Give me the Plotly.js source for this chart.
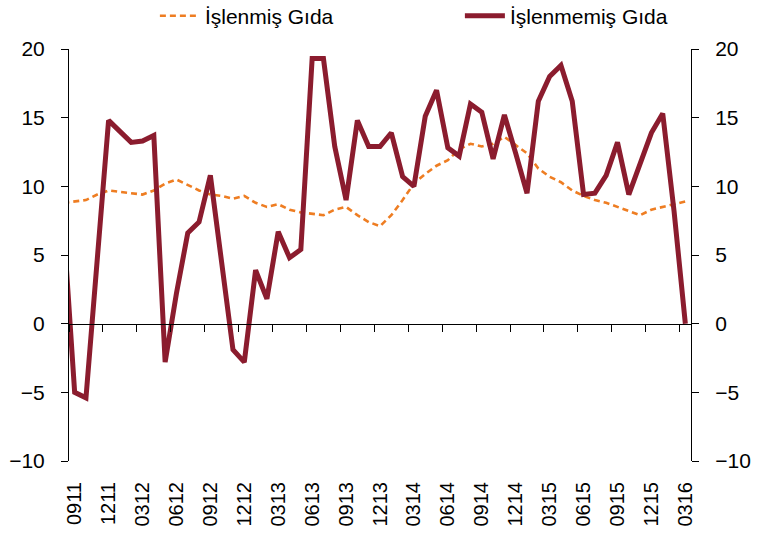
<!DOCTYPE html>
<html>
<head>
<meta charset="utf-8">
<script src="https://cdn.plot.ly/plotly-3.0.1.min.js"></script>
<style>html,body{margin:0;padding:0;background:#fff;}#chart{width:763px;height:535px;}</style>
</head>
<body>
<div id="chart"></div>
<script>
// Months (MMYY); first entry lies just before the visible range (clipped at the left axis)
var months = ['0811','0911','1011','1111','1211','0112','0212','0312','0412','0512','0612','0712','0812',
  '0912','1012','1112','1212','0113','0213','0313','0413','0513','0613','0713','0813',
  '0913','1013','1113','1213','0114','0214','0314','0414','0514','0614','0714','0814',
  '0914','1014','1114','1214','0115','0215','0315','0415','0515','0615','0715','0815',
  '0915','1015','1115','1215','0116','0216','0316'];

var islenmis = [8.8, 8.9, 9.0, 9.4, 9.7, 9.6, 9.5, 9.4, 9.7, 10.2, 10.5, 10.1, 9.7,
  9.4, 9.3, 9.1, 9.3, 8.8, 8.5, 8.7, 8.3, 8.1, 8.0, 7.9, 8.3,
  8.5, 7.9, 7.4, 7.1, 7.9, 9.0, 10.2, 10.9, 11.5, 11.9, 12.7, 13.1,
  12.9, 13.1, 13.6, 13.0, 12.4, 11.3, 10.7, 10.3, 9.7, 9.3, 9.0, 8.8,
  8.5, 8.2, 7.9, 8.3, 8.5, 8.7, 8.9];

var islenmemis = [7.4, -5.0, -5.4, 4.8, 14.8, 14.0, 13.2, 13.3, 13.7, -2.8, 2.2, 6.6, 7.4,
  10.8, 4.5, -1.9, -2.8, 3.9, 1.8, 6.7, 4.8, 5.4, 19.3, 19.3, 12.9,
  9.0, 14.8, 12.9, 12.9, 13.9, 10.7, 10.0, 15.1, 17.0, 12.8, 12.2, 16.0,
  15.4, 12.0, 15.2, 12.4, 9.5, 16.2, 18.0, 18.8, 16.2, 9.4, 9.5, 10.8,
  13.2, 9.4, 11.6, 13.9, 15.3, 8.2, 0.0];

var tickLabels = ['0911','1211','0312','0612','0912','1212','0313','0613','0913','1213',
  '0314','0614','0914','1214','0315','0615','0915','1215','0316'];

var yTicks = [-10, -5, 0, 5, 10, 15, 20];
var yMin = -10, yMax = 20;

var FONT = 'Arial, "Liberation Sans", sans-serif';

// tick marks between categories, every 3 months
var boundaryTicks = [];
for (var k = 0; k < tickLabels.length; k++) { boundaryTicks.push(0.5 + 3 * k); }

var traces = [
  {x: months, y: islenmis, type: 'scatter', mode: 'lines', name: 'İşlenmiş Gıda',
   line: {color: '#EE7D22', width: 2.6, dash: '6px,4px'}, hoverinfo: 'skip'},
  {x: months, y: islenmemis, type: 'scatter', mode: 'lines', name: 'İşlenmemiş Gıda',
   line: {color: '#8B1C2E', width: 5}, hoverinfo: 'skip'},
  {x: [], y: [], xaxis: 'x2', yaxis: 'y', showlegend: false, hoverinfo: 'skip'},
  {x: [], y: [], xaxis: 'x', yaxis: 'y2', showlegend: false, hoverinfo: 'skip'}
];

var layout = {
  width: 763, height: 535,
  margin: {l: 69, r: 72, t: 49, b: 74, pad: 0},
  paper_bgcolor: '#fff', plot_bgcolor: '#fff',
  font: {family: FONT, size: 21, color: '#000'},
  showlegend: true,
  legend: {orientation: 'h', xref: 'container', yref: 'container', x: 0.203, xanchor: 'left',
           y: 0.97, yanchor: 'middle',
           font: {family: FONT, size: 21, color: '#000'}, entrywidth: 250, entrywidthmode: 'pixels',
           bgcolor: 'rgba(0,0,0,0)', itemwidth: 40},
  xaxis: {type: 'category', categoryorder: 'array', categoryarray: months,
          range: [0.5, 55.5], tickmode: 'array', tickvals: tickLabels, ticktext: tickLabels,
          tickangle: -90, ticks: '', showline: false, showgrid: false, zeroline: false,
          tickfont: {family: FONT, size: 20, color: '#000'}, ticklabelstandoff: 16,
          fixedrange: true},
  xaxis2: {type: 'linear', overlaying: 'x', anchor: 'free',
           position: (0 - yMin) / (yMax - yMin),
           range: [0.5, 55.5], tickmode: 'array', tickvals: boundaryTicks,
           showticklabels: false, ticks: 'outside', ticklen: 7, tickwidth: 1, tickcolor: '#000',
           showline: true, linecolor: '#000', linewidth: 1, showgrid: false, zeroline: false},
  yaxis: {range: [yMin, yMax], tickmode: 'array', tickvals: yTicks,
          ticks: 'outside', ticklen: 7, tickwidth: 1, tickcolor: '#000',
          showline: true, linecolor: '#000', linewidth: 1, showgrid: false, zeroline: false,
          tickfont: {family: FONT, size: 21, color: '#000'}, ticklabelstandoff: 12},
  yaxis2: {range: [yMin, yMax], overlaying: 'y', side: 'right', anchor: 'x',
           tickmode: 'array', tickvals: yTicks,
           ticks: 'outside', ticklen: 7, tickwidth: 1, tickcolor: '#000',
           showline: true, linecolor: '#000', linewidth: 1, showgrid: false, zeroline: false,
           tickfont: {family: FONT, size: 21, color: '#000'}, ticklabelstandoff: 12}
};

Plotly.newPlot('chart', traces, layout, {staticPlot: true, displayModeBar: false});
</script>
</body>
</html>
